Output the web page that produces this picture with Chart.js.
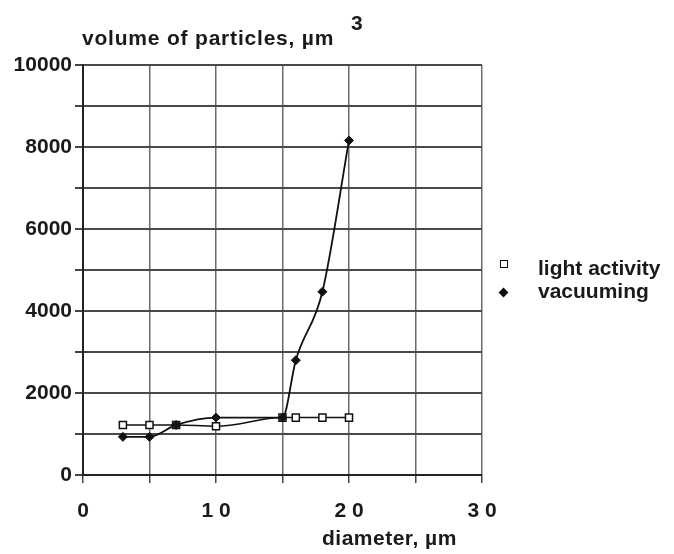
<!DOCTYPE html>
<html>
<head>
<meta charset="utf-8">
<script src="https://cdn.jsdelivr.net/npm/chart.js@4"></script>
<style>
    body { margin: 0; background: #fff; }
    .wrap { position: relative; width: 674px; height: 554px; }
    .txt {
        position: absolute;
        font-family: 'Liberation Sans', Arial, sans-serif;
        font-weight: bold;
        font-size: 21px;
        line-height: 21px;
        color: #1a1a1a;
        white-space: nowrap;
    }
    .legend-mark { position: absolute; box-sizing: border-box; }
</style>
</head>
<body>
<div class="wrap">
    <canvas id="ParticleChart" width="674" height="554"></canvas>
    <div class="txt" id="yTitle" style="left:82px; top:27px; letter-spacing:0.8px;"></div>
    <div class="txt" id="yTitleSup" style="left:351px; top:12px;">3</div>
    <div class="txt" id="xTitle" style="left:322px; top:527px; letter-spacing:0.5px;"></div>
    <div id="legend"></div>
</div>
<script>
// data

const diameters = [3, 5, 7, 10, 15, 16, 18, 20];
const lightActivity = [1220, 1220, 1220, 1190, 1400, 1400, 1400, 1400];
const vacuuming = [930, 930, 1220, 1400, 1400, 2800, 4470, 8160];
const seriesNames = ['light activity', 'vacuuming'];
const xTickLabels = [0, 10, 20, 30];
const yTickLabels = [0, 2000, 4000, 6000, 8000, 10000];
const yTitleText = 'volume of particles, \u00b5m';
const xTitleText = 'diameter, \u00b5m';

document.getElementById('yTitle').textContent = yTitleText;
document.getElementById('xTitle').textContent = xTitleText;

const toPoints = (values) => diameters.map((d, i) => ({ x: d, y: values[i] }));

Chart.defaults.font.family = "'Liberation Sans', Arial, sans-serif";
Chart.defaults.font.weight = 'bold';
Chart.defaults.font.size = 21;
Chart.defaults.color = '#1a1a1a';

const ctx = document.getElementById('ParticleChart').getContext('2d');

const ParticleChart = new Chart(ctx, {
    type: 'line',
    data: {
        datasets: [{
            label: seriesNames[0],
            data: toPoints(lightActivity),
            borderColor: '#111',
            borderWidth: 1.5,
            pointStyle: 'rect',
            pointRadius: 5,
            pointBorderWidth: 1.5,
            pointBackgroundColor: '#fff',
            pointBorderColor: '#111',
            cubicInterpolationMode: 'monotone',
            order: 1
        },
        {
            label: seriesNames[1],
            data: toPoints(vacuuming),
            borderColor: '#111',
            borderWidth: 1.8,
            pointStyle: 'rectRot',
            pointRadius: 4.5,
            pointBorderWidth: 1,
            pointBackgroundColor: '#111',
            pointBorderColor: '#111',
            cubicInterpolationMode: 'monotone',
            order: 0
        }]
    },
    options: {
        responsive: false,
        animation: false,
        devicePixelRatio: 1,
        layout: {
            padding: { top: 65, right: 192, bottom: 0, left: 0 }
        },
        plugins: {
            legend: { display: false },
            tooltip: { enabled: false }
        },
        scales: {
            x: {
                type: 'linear',
                min: 0,
                max: 30,
                afterFit: (scale) => { scale.height = 79; },
                grid: {
                    color: '#6a6a6a',
                    lineWidth: 1.5,
                    tickLength: 8,
                    tickColor: '#444'
                },
                border: { color: '#222', width: 2 },
                ticks: {
                    stepSize: 5,
                    padding: 16,
                    maxRotation: 0,
                    autoSkip: false,
                    callback: function (value) {
                        return xTickLabels.includes(value) ? String(value).split('').join(' ') : '';
                    }
                }
            },
            y: {
                min: 0,
                max: 10000,
                afterFit: (scale) => { scale.width = 83; },
                grid: {
                    color: '#4a4a4a',
                    lineWidth: 2,
                    tickLength: 8,
                    tickColor: '#444'
                },
                border: { color: '#222', width: 2 },
                ticks: {
                    stepSize: 1000,
                    padding: 3,
                    autoSkip: false,
                    callback: function (value) {
                        return yTickLabels.includes(value) ? String(value) : '';
                    }
                }
            }
        }
    }
});

// html legend built from the datasets

const legendRows = [
    { top: 257, markTop: 260, mark: 'square' },
    { top: 280, markTop: 289, mark: 'diamond' }
];
const legend = document.getElementById('legend');
ParticleChart.data.datasets.forEach((ds, i) => {
    const row = legendRows[i];
    const mark = document.createElement('div');
    mark.className = 'legend-mark';
    if (row.mark === 'square') {
        mark.style.cssText = 'left:500px; top:' + row.markTop + 'px; width:8px; height:8px; border:1.5px solid #111; background:#fff;';
    } else {
        mark.style.cssText = 'left:500px; top:' + row.markTop + 'px; width:7px; height:7px; background:#111; transform:rotate(45deg);';
    }
    legend.appendChild(mark);
    const label = document.createElement('div');
    label.className = 'txt';
    label.style.left = '538px';
    label.style.top = row.top + 'px';
    label.textContent = ds.label;
    legend.appendChild(label);
});
</script>
</body>
</html>
